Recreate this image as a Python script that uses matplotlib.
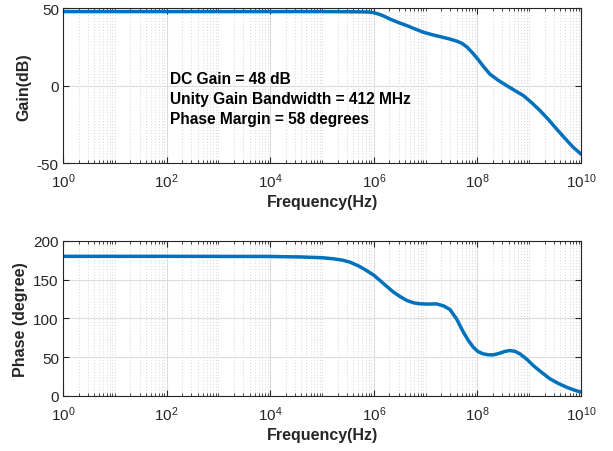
import numpy as np
import matplotlib
matplotlib.use("Agg")
import matplotlib.pyplot as plt
from matplotlib.ticker import LogLocator, FixedLocator, NullFormatter

plt.rcParams['font.family'] = ['Liberation Sans', 'DejaVu Sans']
plt.rcParams['axes.unicode_minus'] = False

# values (log10 of frequency in Hz)
gain_logf = [0, 2, 4, 5, 5.5, 5.8, 5.9, 6.0, 6.1, 6.2, 6.31, 6.47, 6.64, 6.8,
             6.96, 7.12, 7.28, 7.45, 7.6, 7.7, 7.8, 7.9, 8.0, 8.1, 8.24, 8.4,
             8.57, 8.73, 8.89, 9.05, 9.21, 9.37, 9.53, 9.69, 9.85, 10.0]
gain_db = [48, 48, 48, 48, 47.9, 47.8, 47.7, 47.3, 46.3, 45.0, 43.2, 41.0, 38.9,
           36.7, 34.6, 33.1, 31.8, 30.4, 28.9, 27.5, 25.0, 21.5, 17.6, 13.2, 7.6,
           3.6, 0.0, -3.2, -6.4, -11.0, -16.1, -21.8, -28.0, -34.0, -39.8, -44.2]

phase_logf = [0, 2, 4, 4.58, 5.0, 5.22, 5.4, 5.54, 5.7, 5.86, 6.0, 6.12, 6.25,
              6.38, 6.51, 6.64, 6.77, 6.89, 7.05, 7.21, 7.35, 7.47, 7.6, 7.73,
              7.83, 7.92, 8.01, 8.11, 8.21, 8.31, 8.42, 8.53, 8.63, 8.73, 8.82,
              8.95, 9.08, 9.24, 9.4, 9.56, 9.72, 9.86, 10.0]
phase_deg = [180, 180, 179.8, 179.2, 178.2, 176.8, 175.0, 172.5, 167.8, 161.7,
             155.6, 148.8, 141.2, 133.8, 128.0, 123.0, 120.0, 118.7, 118.4, 118.7,
             116.0, 111.4, 99.0, 82.0, 71.0, 62.8, 57.2, 54.2, 53.0, 52.9, 54.8,
             57.3, 58.5, 57.3, 54.2, 47.5, 39.0, 30.3, 22.0, 16.1, 11.2, 7.7, 4.8]

annot = ["DC Gain = 48 dB",
         "Unity Gain Bandwidth = 412 MHz",
         "Phase Margin = 58 degrees"]

blue = '#0072BD'
fig = plt.figure(figsize=(6.13, 4.52), dpi=100)
ax1 = fig.add_axes([0.1028, 0.637, 0.845, 0.342])
ax2 = fig.add_axes([0.1028, 0.122, 0.845, 0.343])


def style(ax, yticks, ylim, ylabel):
    ax.set_xscale('log')
    ax.set_xlim(1, 1e10)
    ax.set_ylim(*ylim)
    ax.set_yticks(yticks)
    ax.xaxis.set_major_locator(FixedLocator([10.0 ** k for k in range(0, 11, 2)]))
    ax.xaxis.set_minor_locator(LogLocator(base=10, subs=np.arange(1, 10), numticks=30))
    ax.xaxis.set_minor_formatter(NullFormatter())
    ax.grid(True, which='major', color='#dcdcdc', linewidth=0.8)
    ax.grid(True, which='minor', axis='x', color='#dcdcdc', linestyle=':', linewidth=0.8)
    ax.set_axisbelow(True)
    ax.tick_params(which='both', direction='in', top=True, right=True,
                   colors='#262626', labelsize=11)
    ax.tick_params(axis='x', which='major', length=4, pad=6)
    ax.tick_params(axis='y', which='major', length=4, pad=3)
    ax.tick_params(which='minor', length=2)
    for s in ax.spines.values():
        s.set_color('#262626')
        s.set_linewidth(0.8)
    ax.set_xlabel('Frequency(Hz)', fontsize=11.5, fontweight='bold', color='#262626',
                  labelpad=3)
    ax.set_ylabel(ylabel, fontsize=11.5, fontweight='bold', color='#262626')


ax1.plot(10.0 ** np.array(gain_logf), gain_db, color=blue, linewidth=2.5,
         solid_joinstyle='round', solid_capstyle='round')
style(ax1, [-50, 0, 50], (-50, 50), 'Gain(dB)')
for i, t in enumerate(annot):
    ax1.text(117, 4.4 - i * 12.8, t, fontsize=11.2, fontweight='bold', color='black',
             va='center', ha='left')

ax2.plot(10.0 ** np.array(phase_logf), phase_deg, color=blue, linewidth=2.5,
         solid_joinstyle='round', solid_capstyle='round')
style(ax2, [0, 50, 100, 150, 200], (0, 200), 'Phase (degree)')

fig.savefig('out.png', dpi=100)
